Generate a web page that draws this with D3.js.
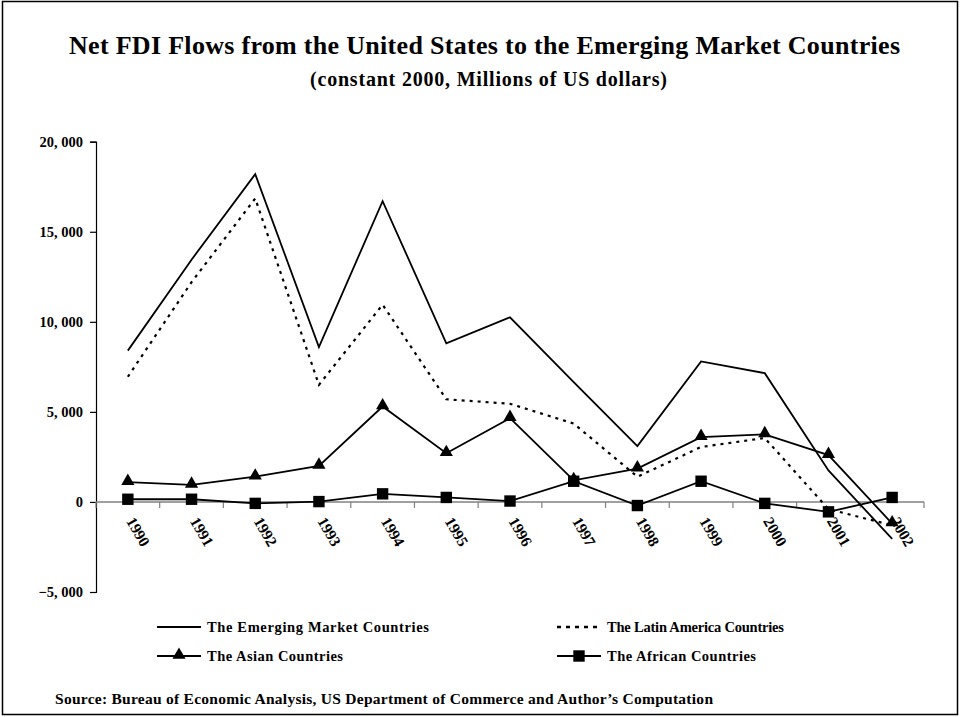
<!DOCTYPE html>
<html>
<head>
<meta charset="utf-8">
<script src="https://cdn.jsdelivr.net/npm/d3@7"></script>
<style>
  body { margin: 0; background: #fff; }
  text { font-family: "Liberation Serif", "Times New Roman", serif; font-weight: bold; fill: #000; }
</style>
</head>
<body>
<div class="container"></div>
<script>
const years = ['1990', '1991', '1992', '1993', '1994', '1995', '1996', '1997', '1998', '1999', '2000', '2001', '2002'];
const emerging = [8400, 13450, 18200, 8600, 16700, 8800, 10250, 6650, 3100, 7800, 7150, 1750, -2050];
const latin = [6950, 12200, 16850, 6500, 10950, 5700, 5450, 4350, 1400, 3050, 3550, -400, -1300];
const asian = [1100, 950, 1400, 2000, 5300, 2700, 4650, 1200, 1850, 3600, 3750, 2600, -1200];
const african = [150, 150, -80, 20, 450, 250, 50, 1150, -200, 1150, -80, -550, 250];
const yTicks = [-5000, 0, 5000, 10000, 15000, 20000];

const width = 960;
const height = 717;

const svg = d3.select('.container').append('svg').attr('width', width).attr('height', height);

//frame
svg.append('rect')
  .attr('x', 2.5).attr('y', 1.5).attr('width', 955).attr('height', 713)
  .attr('fill', 'none').attr('stroke', '#000').attr('stroke-width', 1.5);

//titles (widths stretched to the original's loose spacing)
svg.append('text').text('Net FDI Flows from the United States to the Emerging Market Countries')
  .attr('x', 69).attr('y', 54).attr('textLength', 831).attr('lengthAdjust', 'spacing')
  .style('font-size', '26px');
svg.append('text').text('(constant 2000, Millions of US dollars)')
  .attr('x', 310).attr('y', 86).attr('textLength', 357).attr('lengthAdjust', 'spacing')
  .style('font-size', '20px');

//scales
const xScale = d3.scaleBand().domain(years).range([96, 924]);
const yScale = d3.scaleLinear().domain([-5000, 20000]).range([592, 141.7]);
const cx = d => xScale(d) + xScale.bandwidth() / 2;

//y axis
const leftAxis = d3.axisLeft(yScale).tickValues(yTicks).tickSize(6).tickPadding(7).tickFormat(d3.format(','));
const leftAxisGroup = svg.append('g').attr('transform', 'translate(96,0)');
leftAxis(leftAxisGroup);
leftAxisGroup.select('.domain').attr('stroke', '#000').attr('stroke-width', 1.2);
leftAxisGroup.selectAll('.tick line').attr('stroke', '#000').attr('stroke-width', 1.2);
leftAxisGroup.selectAll('.tick text')
  .style('font-family', '"Liberation Serif", serif').style('font-weight', 'bold').style('font-size', '14.5px')
  .text(d => d3.format(',')(d).replace(',', ', '));

//x axis on zero line
const zeroY = yScale(0);
const axisGroup = svg.append('g');
axisGroup.append('line')
  .attr('x1', 96).attr('x2', 924).attr('y1', zeroY).attr('y2', zeroY)
  .attr('stroke', '#808080').attr('stroke-width', 1.5);
axisGroup.selectAll('.xtick')
  .data(years.concat(['end']))
  .join('line')
  .attr('class', 'xtick')
  .attr('x1', (d, i) => 96 + i * xScale.bandwidth())
  .attr('x2', (d, i) => 96 + i * xScale.bandwidth())
  .attr('y1', zeroY).attr('y2', zeroY + 6)
  .attr('stroke', '#808080').attr('stroke-width', 1.2);
axisGroup.selectAll('.xlabel')
  .data(years)
  .join('text')
  .attr('class', 'xlabel')
  .attr('transform', d => `translate(${cx(d) - 2},${zeroY + 19}) rotate(60)`)
  .style('font-size', '15.5px')
  .text(d => d);

//lines
const line = values => d3.line().x((v, i) => cx(years[i])).y(v => yScale(v))(values);
const linesGroup = svg.append('g').attr('fill', 'none').attr('stroke', '#000');

linesGroup.append('path').attr('d', line(emerging)).attr('stroke-width', 1.8);
linesGroup.append('path').attr('d', line(latin)).attr('stroke-width', 2.2).attr('stroke-dasharray', '3,5');
linesGroup.append('path').attr('d', line(asian)).attr('stroke-width', 1.8);
linesGroup.append('path').attr('d', line(african)).attr('stroke-width', 1.8);

//markers
const triangle = d3.symbol().type(d3.symbolTriangle).size(75);
const square = d3.symbol().type(d3.symbolSquare).size(130);

svg.append('g').selectAll('path')
  .data(asian)
  .join('path')
  .attr('d', triangle)
  .attr('transform', (d, i) => `translate(${cx(years[i])},${yScale(d) - 1})`)
  .attr('fill', '#000');

svg.append('g').selectAll('path')
  .data(african)
  .join('path')
  .attr('d', square)
  .attr('transform', (d, i) => `translate(${cx(years[i])},${yScale(d)})`)
  .attr('fill', '#000');

//legend
const legend = svg.append('g');
const addItem = (x, y, label, len, dash, marker) => {
  legend.append('line')
    .attr('x1', x).attr('x2', x + 44).attr('y1', y).attr('y2', y)
    .attr('stroke', '#000').attr('stroke-width', dash ? 2.5 : 1.8)
    .attr('stroke-dasharray', dash ? '4,5' : null);
  if (marker) {
    legend.append('path').attr('d', marker)
      .attr('transform', `translate(${x + 22},${y - (marker === triangle ? 1 : 0)})`)
      .attr('fill', '#000');
  }
  legend.append('text').text(label).attr('x', x + 50).attr('y', y + 5)
    .attr('textLength', len).attr('lengthAdjust', 'spacing')
    .style('font-size', '14.5px');
};
addItem(157, 627, 'The Emerging Market Countries', 222, false, null);
addItem(557, 627, 'The Latin America Countries', 177, true, null);
addItem(157, 656, 'The Asian Countries', 136, false, triangle);
addItem(557, 656, 'The African Countries', 149, false, square);

//source
svg.append('text')
  .text('Source: Bureau of Economic Analysis, US Department of Commerce and Author\u2019s Computation')
  .attr('x', 55).attr('y', 704).attr('textLength', 658).attr('lengthAdjust', 'spacing')
  .style('font-size', '15.5px');
</script>
</body>
</html>
